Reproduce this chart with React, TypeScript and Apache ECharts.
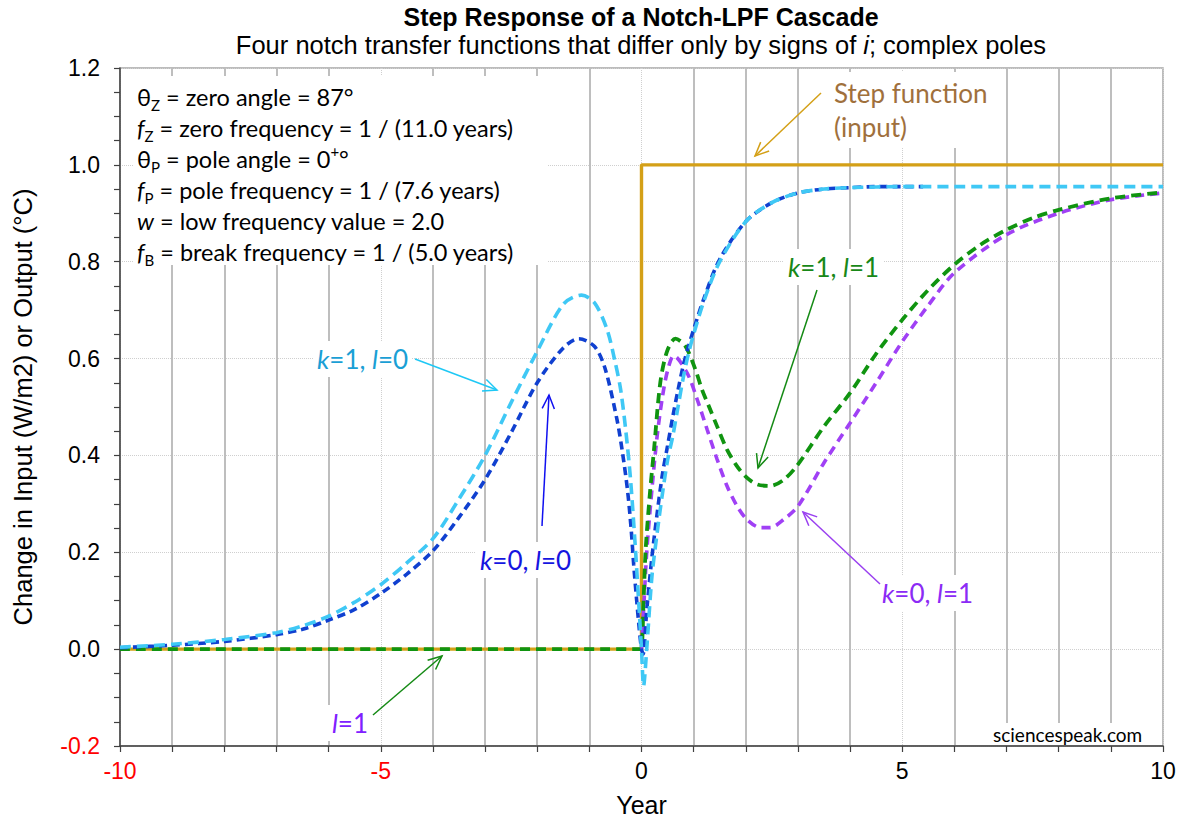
import React, { useEffect, useRef } from "react";
import * as echarts from "echarts";

// ---------- data ----------
const stepX = [-10, 0, 0, 10];
const stepY = [0, 0, 1, 1];

const k1l0X = [-10, -9, -8, -7, -6.5, -6, -5.5, -5, -4.5, -4, -3.5, -3, -2.5, -2, -1.5, -1.15, -0.9, -0.66, -0.5, -0.4, -0.3, -0.21, -0.12, -0.05, 0, 0.04, 0.1, 0.2, 0.3, 0.4, 0.5, 0.6, 0.7, 0.8, 0.9, 1.0, 1.2, 1.5, 2, 2.5, 3, 3.5, 4, 5, 6, 7, 8, 9, 10];
const k1l0Y = [0.004, 0.01, 0.02, 0.034, 0.048, 0.068, 0.097, 0.133, 0.178, 0.228, 0.31, 0.4, 0.509, 0.615, 0.712, 0.731, 0.715, 0.66, 0.59, 0.536, 0.45, 0.35, 0.213, 0.09, 0.0, -0.076, 0.0, 0.15, 0.24, 0.32, 0.39, 0.44, 0.5, 0.56, 0.61, 0.65, 0.72, 0.8, 0.883, 0.922, 0.942, 0.95, 0.953, 0.955, 0.955, 0.955, 0.955, 0.955, 0.955];

const k0l0X = [-10, -9, -8, -7, -6.5, -6, -5.5, -5, -4.5, -4, -3.5, -3, -2.5, -2, -1.5, -1.2, -0.9, -0.7, -0.47, -0.37, -0.27, -0.2, -0.15, -0.1, -0.05, 0, 0.03, 0.1, 0.2, 0.3, 0.4, 0.5, 0.6, 0.7, 0.8, 0.9, 1.0, 1.2, 1.5, 2, 2.5, 3, 3.5, 4, 4.5, 5, 5.4];
const k0l0Y = [0.003, 0.008, 0.016, 0.03, 0.041, 0.06, 0.082, 0.115, 0.155, 0.203, 0.272, 0.35, 0.447, 0.55, 0.622, 0.641, 0.625, 0.58, 0.474, 0.41, 0.33, 0.25, 0.175, 0.11, 0.05, 0.0, -0.01, 0.08, 0.19, 0.28, 0.36, 0.42, 0.48, 0.535, 0.585, 0.625, 0.66, 0.725, 0.805, 0.883, 0.922, 0.942, 0.95, 0.953, 0.955, 0.955, 0.955];

const k1l1X = [-10, -5, -0.02, 0, 0.04, 0.08, 0.16, 0.24, 0.36, 0.49, 0.65, 0.84, 1.035, 1.16, 1.29, 1.45, 1.64, 1.83, 2.02, 2.22, 2.47, 2.73, 2.99, 3.5, 4, 4.5, 5, 5.5, 6, 6.5, 7, 7.5, 8, 9, 10];
const k1l1Y = [0, 0, 0, 0, 0.1, 0.206, 0.32, 0.412, 0.55, 0.615, 0.641, 0.626, 0.577, 0.536, 0.502, 0.46, 0.412, 0.378, 0.354, 0.34, 0.337, 0.35, 0.38, 0.46, 0.529, 0.61, 0.68, 0.742, 0.794, 0.835, 0.866, 0.89, 0.907, 0.931, 0.943];

const k0l1X = [0, 0.05, 0.1, 0.2, 0.3, 0.4, 0.5, 0.62, 0.876, 1.07, 1.26, 1.45, 1.64, 1.83, 2.02, 2.28, 2.47, 2.73, 3.0, 3.5, 4, 4.5, 5, 5.5, 6, 7, 8, 9, 10];
const k0l1Y = [0, 0.1, 0.2, 0.33, 0.44, 0.52, 0.575, 0.606, 0.57, 0.515, 0.453, 0.392, 0.337, 0.296, 0.268, 0.251, 0.251, 0.268, 0.295, 0.385, 0.467, 0.55, 0.635, 0.71, 0.777, 0.856, 0.9, 0.928, 0.942];

const titleText = "Step Response of a Notch-LPF Cascade";
const subtitleParts = ["Four notch transfer functions that differ only by signs of ", "i", "; complex poles"];
const xName = "Year";
const yName = "Change in Input (W/m2) or Output (°C)";

const zip = (xs: number[], ys: number[]) => xs.map((x, i) => [x, ys[i]]);

const SANS = "Liberation Sans, Arial, sans-serif";
const CAL = "Lato, sans-serif";

function arrow(x1: number, y1: number, x2: number, y2: number, color: string, lw = 1.5, len = 15, spread = 0.42) {
  const a = Math.atan2(y2 - y1, x2 - x1);
  const p1 = [x2 - len * Math.cos(a - spread), y2 - len * Math.sin(a - spread)];
  const p2 = [x2 - len * Math.cos(a + spread), y2 - len * Math.sin(a + spread)];
  return [
    { type: "line", z: 60, shape: { x1, y1, x2, y2 }, style: { stroke: color, lineWidth: lw } },
    { type: "polyline", z: 60, shape: { points: [p1, [x2, y2], p2] }, style: { stroke: color, lineWidth: lw, fill: "none" } },
  ];
}

function kLabel(x: number, y: number, k: string | null, l: string, color: string, size = 26) {
  const text = k !== null ? `{i|k}{n|=${k}, }{i|l}{n|=${l}}` : `{i|l}{n|=${l}}`;
  return {
    type: "text",
    z: 55,
    x,
    y,
    style: {
      text,
      align: "left",
      verticalAlign: "middle",
      textAlign: "left",
      textVerticalAlign: "middle",
      backgroundColor: "#fff",
      padding: [5, 4, 5, 4],
      rich: {
        n: { fontFamily: CAL, fontSize: size, fill: color, color },
        i: { fontFamily: CAL, fontSize: size, fontStyle: "italic", fill: color, color },
      },
    },
  };
}

export default function App() {
  const ref = useRef<HTMLDivElement>(null);

  useEffect(() => {
    if (!ref.current) return;
    const chart = echarts.init(ref.current, undefined, { renderer: "svg" });

    const infoRich = {
      n: { fontFamily: CAL, fontSize: 23.5, lineHeight: 31, fill: "#000", color: "#000" },
      i: { fontFamily: CAL, fontSize: 23.5, lineHeight: 31, fontStyle: "italic", fill: "#000", color: "#000" },
      s: { fontFamily: CAL, fontSize: 15, lineHeight: 13, verticalAlign: "bottom", fill: "#000", color: "#000" },
      u: { fontFamily: CAL, fontSize: 15, lineHeight: 15, verticalAlign: "top", fill: "#000", color: "#000" },
    };
    const infoText = [
      "{n|θ}{s|Z}{n| = zero angle = 87°}",
      "{i|f}{s|Z}{n| = zero frequency = 1 / (11.0 years)}",
      "{n|θ}{s|P}{n| = pole angle = 0}{u|+}{n|°}",
      "{i|f}{s|P}{n| = pole frequency = 1 / (7.6 years)}",
      "{i|w}{n| = low frequency value = 2.0}",
      "{i|f}{s|B}{n| = break frequency = 1 / (5.0 years)}",
    ].join("\n");

    const dashed = (color: string, dash: number[], w = 3) => ({
      color,
      width: w,
      type: dash,
      cap: "butt",
    });

    const option: any = {
      animation: false,
      backgroundColor: "#fff",
      grid: {
        left: 120,
        right: 21,
        top: 68,
        bottom: 79,
        show: true,
        borderColor: "#A6A6A6",
        borderWidth: 1.5,
        backgroundColor: "transparent",
      },
      xAxis: {
        type: "value",
        min: -10,
        max: 10,
        interval: 5,
        name: xName,
        nameLocation: "middle",
        nameGap: 46,
        nameTextStyle: { fontSize: 25, fontFamily: SANS, color: "#000" },
        axisLine: { onZero: false, lineStyle: { color: "#404040", width: 1.5 } },
        axisTick: { show: true, length: 6, lineStyle: { color: "#404040", width: 1.2 } },
        minorTick: { show: true, splitNumber: 5, length: 6, lineStyle: { color: "#404040", width: 1.2 } },
        splitLine: { show: true, lineStyle: { color: "#CFCFCF", type: "dotted", width: 1 } },
        minorSplitLine: { show: true, lineStyle: { color: "#BEBEBE", width: 2 } },
        axisLabel: {
          fontSize: 23,
          fontFamily: SANS,
          color: "#000",
          margin: 13,
          formatter: (v: number) => (v < 0 ? `{neg|${v}}` : `${v}`),
          rich: { neg: { fontSize: 23, fontFamily: SANS, color: "#FF0000" } },
        },
      },
      yAxis: {
        type: "value",
        min: -0.2,
        max: 1.2,
        interval: 0.2,
        name: yName,
        nameLocation: "middle",
        nameGap: 84,
        nameTextStyle: { fontSize: 25.5, fontFamily: SANS, color: "#000" },
        axisLine: { onZero: false, lineStyle: { color: "#404040", width: 1.5 } },
        axisTick: { show: true, length: 6, lineStyle: { color: "#404040", width: 1.2 } },
        minorTick: { show: true, splitNumber: 4, length: 6, lineStyle: { color: "#404040", width: 1.2 } },
        splitLine: { show: true, lineStyle: { color: "#CFCFCF", type: "dotted", width: 1 } },
        minorSplitLine: { show: false },
        axisLabel: {
          fontSize: 23,
          fontFamily: SANS,
          color: "#000",
          margin: 20,
          formatter: (v: number) => (v < -0.001 ? `{neg|${v.toFixed(1)}}` : `${Math.abs(v).toFixed(1)}`),
          rich: { neg: { fontSize: 23, fontFamily: SANS, color: "#FF0000" } },
        },
      },
      series: [
        {
          name: "Step function (input)",
          type: "line",
          data: zip(stepX, stepY),
          showSymbol: false,
          symbol: "none",
          lineStyle: { color: "#D4A017", width: 3.4 },
          z: 2,
        },
        {
          name: "k=0, l=1",
          type: "line",
          data: zip(k0l1X, k0l1Y),
          showSymbol: false,
          symbol: "none",
          smooth: 0.3,
          lineStyle: dashed("#A040F5", [9, 6], 3.6),
          z: 3,
        },
        {
          name: "k=1, l=1",
          type: "line",
          data: zip(k1l1X, k1l1Y),
          showSymbol: false,
          symbol: "none",
          smooth: 0.3,
          lineStyle: dashed("#109410", [10, 6], 3.8),
          z: 4,
        },
        {
          name: "k=0, l=0",
          type: "line",
          data: zip(k0l0X, k0l0Y),
          showSymbol: false,
          symbol: "none",
          smooth: 0.3,
          lineStyle: dashed("#1040D0", [8, 5], 3.6),
          z: 5,
        },
        {
          name: "k=1, l=0",
          type: "line",
          data: zip(k1l0X, k1l0Y),
          showSymbol: false,
          symbol: "none",
          smooth: 0.3,
          lineStyle: dashed("#3FC8F5", [11, 6], 3.6),
          z: 6,
        },
      ],
      graphic: {
        elements: [
          {
            type: "text",
            z: 55,
            x: 641,
            y: 17,
            style: {
              text: titleText,
              font: `bold 25px ${SANS}`,
              fill: "#000",
              align: "center",
              verticalAlign: "middle",
              textAlign: "center",
              textVerticalAlign: "middle",
            },
          },
          {
            type: "text",
            z: 55,
            x: 641,
            y: 45,
            style: {
              text: `{r|${subtitleParts[0]}}{it|${subtitleParts[1]}}{r|${subtitleParts[2]}}`,
              align: "center",
              verticalAlign: "middle",
              textAlign: "center",
              textVerticalAlign: "middle",
              rich: {
                r: { fontFamily: SANS, fontSize: 25.5, fill: "#000", color: "#000" },
                it: { fontFamily: SANS, fontSize: 25.5, fontStyle: "italic", fill: "#000", color: "#000" },
              },
            },
          },
          // info box
          { type: "rect", z: 50, shape: { x: 133, y: 76, width: 415, height: 189 }, style: { fill: "#fff" } },
          {
            type: "text",
            z: 55,
            x: 137,
            y: 81,
            style: { text: infoText, rich: infoRich, align: "left", verticalAlign: "top", textAlign: "left", textVerticalAlign: "top" },
          },
          // step function label
          {
            type: "text",
            z: 55,
            x: 830,
            y: 110,
            style: {
              text: "Step function\n(input)",
              fontFamily: CAL,
              fontSize: 26,
              lineHeight: 34,
              fill: "#A0703C",
              align: "left",
              verticalAlign: "middle",
              textAlign: "left",
              textVerticalAlign: "middle",
              backgroundColor: "#fff",
              padding: [4, 4, 4, 4],
            },
          },
          ...arrow(821, 93, 755, 156, "#D4A017"),
          kLabel(313, 359, "1", "0", "#1A9FD5"),
          ...arrow(415, 359, 497, 390, "#1EC8F5"),
          kLabel(476, 560, "0", "0", "#1515E0"),
          ...arrow(542, 526, 549, 395, "#1010F0"),
          kLabel(784, 267, "1", "1", "#188818"),
          ...arrow(817, 290, 758, 468, "#148A14"),
          kLabel(878, 593, "0", "1", "#8B2BF5"),
          ...arrow(880, 584, 803, 512, "#9A40F0"),
          kLabel(328, 723, null, "1", "#8020FF"),
          ...arrow(373, 715, 442, 656, "#148A14"),
          {
            type: "text",
            z: 55,
            x: 990,
            y: 734,
            style: {
              text: "sciencespeak.com",
              fontFamily: CAL,
              fontSize: 19,
              fill: "#000",
              align: "left",
              verticalAlign: "middle",
              textAlign: "left",
              textVerticalAlign: "middle",
              backgroundColor: "#fff",
              padding: [3, 3, 0, 3],
            },
          },
        ],
      },
    };

    chart.setOption(option);
    return () => chart.dispose();
  }, []);

  return (
    <div
      ref={ref}
      style={{ position: "absolute", left: 0, top: 0, width: 1184, height: 825, background: "#fff" }}
    />
  );
}
